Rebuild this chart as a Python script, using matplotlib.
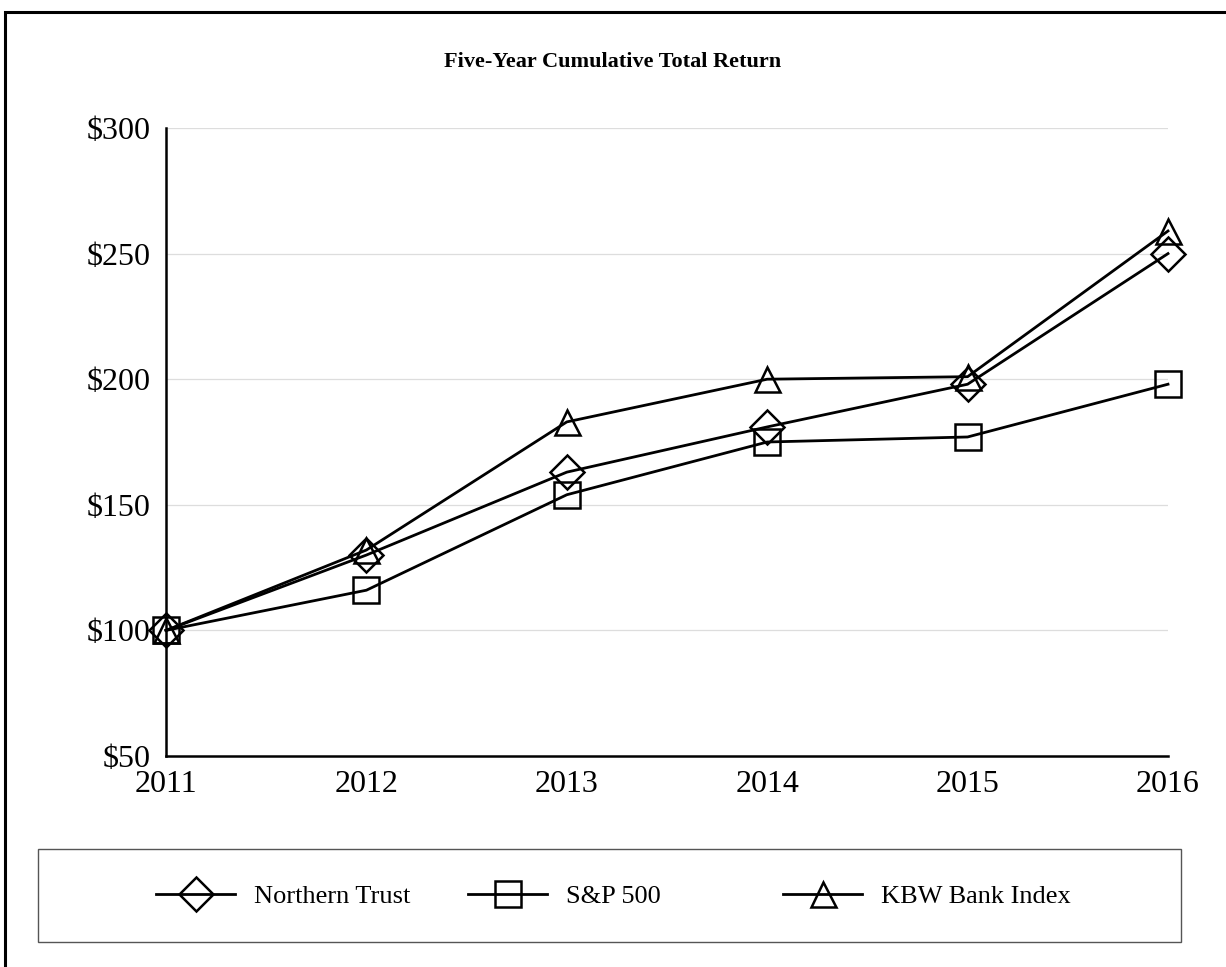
import matplotlib.pyplot as plt
from matplotlib.patches import Rectangle

years = [2011, 2012, 2013, 2014, 2015, 2016]
northern_trust = [100, 130, 163, 181, 198, 250]
sp500 = [100, 116, 154, 175, 177, 198]
kbw_bank = [100, 132, 183, 200, 201, 259]
y_ticks = [50, 100, 150, 200, 250, 300]

plt.rcParams["font.family"] = ["Liberation Serif", "DejaVu Serif"]

fig = plt.figure(figsize=(12.26, 9.67), dpi=100)
ax = fig.add_axes([166 / 1226, 1 - 756 / 967, (1168 - 166) / 1226, (756 - 128) / 967])

style = dict(color="black", linewidth=2.0, markerfacecolor="none",
             markeredgecolor="black", markeredgewidth=1.8, clip_on=False)
h1, = ax.plot(years, northern_trust, marker="D", markersize=17, label="Northern Trust", **style)
h2, = ax.plot(years, sp500, marker="s", markersize=19, label="S&P 500", **style)
h3, = ax.plot(years, kbw_bank, marker="^", markersize=18, label="KBW Bank Index", **style)

ax.set_xlim(2011, 2016)
ax.set_ylim(50, 300)
ax.set_xticks(years)
ax.set_yticks(y_ticks)
ax.set_yticklabels([f"${v}" for v in y_ticks])
ax.tick_params(labelsize=23, length=0)
ax.tick_params(axis="y", pad=11)
ax.tick_params(axis="x", pad=10)
for v in y_ticks[1:]:
    ax.axhline(v, color="#dddddd", linewidth=0.9, zorder=0)
for s in ["top", "right"]:
    ax.spines[s].set_visible(False)
for s in ["left", "bottom"]:
    ax.spines[s].set_linewidth(1.8)

fig.text(0.5, 1 - 62 / 967, "Five-Year Cumulative Total Return",
         ha="center", va="center", fontsize=16, fontweight="bold")

# outer frame and legend box
fig.patches.append(Rectangle((5 / 1226, -0.05), 1.1, 1 - 12 / 967 + 0.05,
                             transform=fig.transFigure, fill=False,
                             edgecolor="black", linewidth=2.2))
fig.patches.append(Rectangle((38 / 1226, 1 - 942 / 967), (1181 - 38) / 1226, 93 / 967,
                             transform=fig.transFigure, fill=False,
                             edgecolor="#555555", linewidth=1.0))

# legend entries placed one by one, like the original
for h, x0 in [(h1, 156), (h2, 468), (h3, 783)]:
    fig.legend(handles=[h], loc="center left", bbox_to_anchor=(x0 / 1226, 1 - 896 / 967),
               frameon=False, fontsize=19, handlelength=3.0, handletextpad=0.7,
               borderpad=0, borderaxespad=0, markerscale=1.0)

fig.savefig("out.png", dpi=100)
